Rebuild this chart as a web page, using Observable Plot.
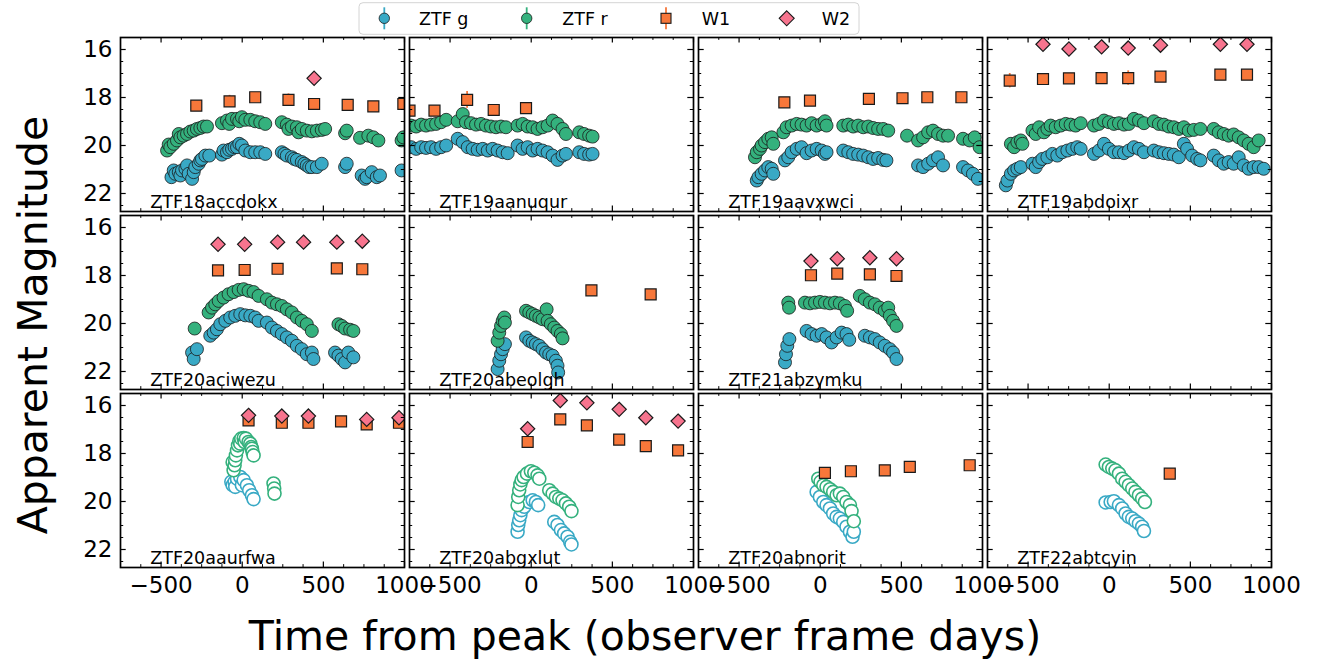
<!DOCTYPE html>
<html><head><meta charset="utf-8">
<script src="https://cdn.jsdelivr.net/npm/d3@7"></script>
<script src="https://cdn.jsdelivr.net/npm/@observablehq/plot@0.6"></script>
<style>
body{margin:0;background:#fff;}
#wrap{position:relative;width:1324px;height:664px;font-family:"DejaVu Sans",sans-serif;}
#overlay{position:absolute;left:0;top:0;pointer-events:none;}
</style></head><body><div id="wrap"></div>
<script>
// ---------------- DATA ----------------
const panelNames = ["ZTF18accdokx","ZTF19aanuqur","ZTF19aavxwci","ZTF19abdoixr",
                    "ZTF20aciwezu","ZTF20abeolgh","ZTF21abzymku","",
                    "ZTF20aaurfwa","ZTF20abgxlut","ZTF20abnorit","ZTF22abtcyin"];
const bandNames = ["ZTF g","ZTF r","W1","W2"];
const xTickLabels = [-500, 0, 500, 1000];
const yTickLabels = [16, 18, 20, 22];

// [time from peak (days), apparent magnitude, (error)]
const accdokx_g = [[-436,21.32],[-422,21.04],[-412,21.18],[-391,21.11],[-381,21.25],[-371,21.04],[-350,20.97],[-340,20.83],[-330,21.18],[-309,21.39],[-299,21.11],[-289,20.90],[-268,20.76],[-258,20.62],[-248,20.56],[-227,20.42],[-203,20.42],
  [-125,20.38],[-115,20.21],[-94,20.28],[-80,20.18],[-63,20.14],[-47,20.07],[-32,20.07],[-18,19.93],[-2,20.00],[19,20.21],[50,20.28],[80,20.28],[111,20.28],[142,20.35],
  [244,20.28],[260,20.35],[275,20.42],[306,20.49],[320,20.56],[337,20.60],[367,20.69],[383,20.76],[398,20.83],[413,20.90],[429,20.90],[460,20.90],[490,20.76],
  [634,20.90],[644,20.76],[736,21.25],[757,21.39],[767,21.32],[798,21.11],[829,21.32],[849,21.25],[982,21.04]];
const accdokx_r = [[-463,20.21],[-453,19.96],[-443,20.07],[-422,19.93],[-402,19.79],[-391,19.52],[-381,19.66],[-361,19.59],[-340,19.52],[-320,19.42],[-299,19.38],[-279,19.31],[-258,19.27],[-238,19.21],[-217,19.21],
  [-125,19.07],[-94,18.96],[-80,19.10],[-63,18.89],[-32,18.89],[-18,18.99],[-2,18.82],[19,18.93],[50,18.93],[80,18.99],[111,19.03],[142,19.10],
  [244,19.03],[275,19.13],[285,19.31],[306,19.21],[337,19.24],[347,19.45],[367,19.31],[398,19.38],[429,19.41],[460,19.38],[490,19.35],[511,19.31],
  [634,19.49],[644,19.38],[726,19.68],[777,19.59],[808,19.66],[839,19.79],[982,19.79],[993,19.66]];
const accdokx_w1 = [[-283,18.34,0.08],[-78,18.16,0.25],[80,17.99,0.15],[285,18.10,0.25],[443,18.27,0.08],[650,18.31,0.08],[808,18.37,0.2],[993,18.27,0.1]];
const accdokx_w2 = [[443,17.20]];

const anuqur_g = [[-740,20.07],[-709,20.14],[-678,20.07],[-648,20.10],[-617,20.07],[-586,20.14],[-555,20.07],[-524,20.00],
  [-453,19.72],[-422,19.86],[-391,20.07],[-361,20.14],[-330,20.18],[-299,20.14],[-268,20.21],[-238,20.14],[-207,20.21],[-176,20.28],[-145,20.32],
  [-84,20.00],[-53,20.14],[-22,20.07],[9,20.21],[39,20.14],[70,20.21],[101,20.28],[132,20.42],[162,20.60],[193,20.42],[214,20.35],
  [296,20.28],[326,20.35],[357,20.38],[378,20.35]];
const anuqur_r = [[-740,19.17],[-709,19.21],[-678,19.13],[-648,19.17],[-617,19.13],[-586,19.10],[-555,19.03],[-524,18.93],
  [-453,18.99],[-422,18.69],[-402,19.03],[-371,19.07],[-340,19.13],[-309,19.10],[-279,19.17],[-248,19.21],[-217,19.24],[-186,19.21],[-156,19.24],
  [-84,19.17],[-53,19.10],[-22,19.21],[9,19.24],[39,19.31],[70,19.24],[101,19.17],[132,18.96],[162,19.10],[193,19.31],[214,19.52],
  [296,19.45],[326,19.52],[357,19.59],[378,19.63]];
const anuqur_w1 = [[-750,18.55,0.1],[-596,18.55,0.1],[-395,18.10,0.35],[-231,18.52,0.1],[-32,18.44,0.1]];
const anuqur_w2 = [];

const aavxwci_g = [[-391,21.46],[-381,21.32],[-361,21.18],[-340,21.04],[-320,20.90],[-299,20.97],[-289,21.18],
  [-217,20.62],[-197,20.49],[-176,20.28],[-145,20.14],[-115,20.07],[-84,20.32],[-53,20.21],[-22,20.14],[9,20.21],[29,20.35],[39,20.28],
  [142,20.21],[173,20.28],[203,20.35],[234,20.38],[265,20.42],[296,20.49],[326,20.56],[357,20.52],[388,20.60],[408,20.62],
  [603,20.83],[634,20.90],[665,20.76],[695,20.62],[726,20.49],[757,20.83],[880,20.90],[911,21.04],[941,21.18],[972,21.39]];
const aavxwci_r = [[-402,20.49],[-391,20.28],[-371,20.14],[-361,20.00],[-340,19.86],[-320,19.72],[-299,19.66],[-289,19.93],
  [-227,19.45],[-207,19.24],[-176,19.17],[-145,19.10],[-115,19.13],[-84,19.17],[-53,19.07],[-22,19.17],[9,19.10],[29,18.99],[39,19.17],
  [142,19.17],[173,19.13],[203,19.21],[234,19.17],[265,19.24],[296,19.21],[326,19.27],[357,19.31],[388,19.31],[419,19.38],
  [535,19.59],[603,19.79],[634,19.66],[665,19.45],[695,19.38],[726,19.52],[757,19.59],[788,19.59],[880,19.72],[921,19.79],[952,19.66],[982,20.07]];
const aavxwci_w1 = [[-221,18.20,0.2],[-63,18.13,0.15],[300,18.06,0.2],[507,18.03,0.2],[660,17.99,0.15],[870,17.99,0.2]];
const aavxwci_w2 = [];

const abdoixr_g = [[-637,21.66],[-627,21.46],[-606,21.18],[-586,21.04],[-566,20.97],[-545,20.90],
  [-473,20.76],[-453,20.90],[-432,20.69],[-412,20.56],[-381,20.49],[-350,20.35],[-320,20.42],[-289,20.28],[-258,20.21],[-227,20.14],[-197,20.07],[-176,20.14],
  [-94,20.35],[-63,20.21],[-32,19.93],[-2,20.14],[29,20.28],[60,20.28],[91,20.32],[121,20.21],[152,20.07],[183,20.14],[214,20.28],
  [275,20.21],[306,20.28],[337,20.32],[367,20.35],[398,20.38],[429,20.49],[460,19.93],[480,20.14],[511,20.42],[542,20.56],[562,20.62],
  [644,20.42],[675,20.62],[706,20.76],[736,20.69],[767,20.76],[798,20.49],[829,20.83],[859,20.97],[890,20.90],[921,20.90],[952,20.97]];
const abdoixr_r = [[-606,19.93],[-586,20.07],[-566,19.86],[-545,19.79],[-535,19.93],
  [-473,19.38],[-453,19.52],[-432,19.24],[-402,19.45],[-381,19.31],[-361,19.17],[-330,19.24],[-299,19.17],[-268,19.10],[-238,19.13],[-207,19.17],[-176,19.07],
  [-94,19.17],[-63,19.10],[-32,18.96],[-2,19.03],[29,19.10],[60,19.07],[91,19.13],[121,19.10],[152,18.89],[183,18.96],[214,19.07],
  [275,18.99],[306,19.10],[337,19.13],[367,19.21],[398,19.24],[429,19.31],[460,19.24],[490,19.38],[521,19.35],[562,19.31],
  [644,19.31],[675,19.45],[706,19.52],[736,19.59],[767,19.54],[798,19.66],[829,19.79],[859,19.93],[890,20.07],[921,19.79]];
const abdoixr_w1 = [[-613,17.30,0.3],[-408,17.23,0.1],[-248,17.20,0.1],[-47,17.19,0.1],[117,17.19,0.3],[316,17.13,0.1],[685,17.05,0.1],[849,17.05,0.1]];
const abdoixr_w2 = [[-408,15.78],[-248,15.98],[-47,15.89],[117,15.94],[316,15.82],[685,15.78],[849,15.78]];

const aciwezu_g = [[-309,21.21],[-299,21.48],[-279,21.07],
  [-197,20.51],[-176,20.38],[-156,20.24],[-135,20.03],[-104,19.89],[-74,19.75],[-43,19.68],[-12,19.61],[19,19.66],[50,19.68],[80,19.75],[101,19.89],
  [152,19.96],[183,20.17],[214,20.31],[244,20.44],[275,20.58],[306,20.72],[337,20.93],[367,21.07],[398,21.28],[429,21.21],[439,21.48],
  [572,21.21],[593,21.34],[613,21.48],[634,21.62],[654,21.21],[685,21.41]];
const aciwezu_r = [[-293,20.21],
  [-207,19.54],[-186,19.34],[-166,19.20],[-145,19.06],[-115,18.92],[-84,18.78],[-53,18.69],[-22,18.60],[9,18.57],[39,18.64],[70,18.69],[101,18.85],
  [152,18.99],[183,19.13],[214,19.20],[244,19.27],[275,19.41],[306,19.54],[337,19.75],[367,19.89],[398,20.03],[429,20.31],
  [593,20.03],[613,20.10],[634,20.21],[665,20.26],[685,20.31]];
const aciwezu_w1 = [[-149,17.79,0.1],[15,17.77,0.1],[218,17.72,0.1],[583,17.70,0.1],[740,17.74,0.1]];
const aciwezu_w2 = [[-149,16.70],[15,16.70],[218,16.61],[378,16.61],[583,16.61],[740,16.57]];

const abeolgh_g = [[-207,21.90],[-197,21.55],[-186,21.28],[-176,21.07],[-162,20.86],
  [-32,20.58],[-12,20.72],[9,20.79],[29,20.86],[50,20.93],[70,21.07],[91,21.21],[111,21.28],[132,21.34],[152,21.55],[162,21.76],[166,22.04]];
const abeolgh_r = [[-207,20.72],[-197,20.38],[-186,20.10],[-176,19.89],[-166,19.75],[-162,19.96],
  [-32,19.47],[-12,19.54],[9,19.61],[29,19.68],[50,19.75],[70,19.82],[95,19.41],[101,19.89],[121,20.03],[142,20.17],[162,20.31],[183,20.44],[193,20.62]];
const abeolgh_w1 = [[371,18.62,0.08],[736,18.79,0.08]];
const abeolgh_w2 = [];

const abzymku_g = [[-217,21.62],[-211,21.28],[-203,20.93],[-190,20.65],
  [-84,20.31],[-53,20.44],[-22,20.51],[9,20.44],[39,20.58],[70,20.79],[101,20.58],[132,20.38],[162,20.44],[179,20.68],
  [275,20.51],[306,20.58],[337,20.65],[367,20.79],[398,20.93],[429,21.07],[449,21.21],[470,21.48]];
const abzymku_r = [[-197,19.13],[-192,19.34],
  [-94,19.13],[-63,19.16],[-32,19.13],[-2,19.10],[29,19.13],[60,19.16],[91,19.13],[121,19.16],[152,19.27],[166,19.47],
  [244,18.85],[275,18.99],[306,19.13],[337,19.20],[367,19.34],[398,19.47],[419,19.34],[429,19.68],[449,19.89],[470,20.10]];
const abzymku_w1 = [[-57,17.99,0.1],[105,17.92,0.1],[306,17.95,0.1],[470,18.02,0.1]];
const abzymku_w2 = [[-57,17.40],[105,17.30],[306,17.26],[470,17.30]];

const aaurfwa_g = [[-67,19.18],[-59,19.32],[-47,19.18],[-43,19.39],[-32,19.05],[-12,18.98],[-2,19.32],[9,19.11],[29,19.32],[43,19.53],[60,19.74],[70,19.90]];
const aaurfwa_r = [[-53,18.70],[-59,18.36],[-47,18.49],[-43,18.28],[-39,18.08],[-32,17.87],[-26,17.66],[-18,17.49],[-12,17.59],[-6,17.38],[9,17.36],[15,17.52],[23,17.38],[39,17.52],[50,17.59],[56,17.73],[60,17.80],[64,17.94],[70,18.08],
  [193,19.25],[197,19.46],[199,19.67]];
const aaurfwa_w1 = [[39,16.62,0.08],[244,16.72,0.08],[408,16.72,0.08],[609,16.66,0.08],[767,16.79,0.08],[966,16.72,0.08]];
const aaurfwa_w2 = [[39,16.41],[244,16.44],[408,16.44],[767,16.58],[966,16.51]];

const abgxlut_g = [[-84,21.26],[-80,20.98],[-74,20.78],[-67,20.57],[-59,20.36],[-43,20.22],[-12,20.02],[9,19.95],[29,20.02],[43,20.15],
  [142,20.85],[162,20.98],[183,21.19],[203,21.33],[224,21.47],[240,21.68],[248,21.79]];
const abgxlut_r = [[-84,20.15],[-80,19.81],[-74,19.53],[-67,19.29],[-59,19.11],[-47,18.98],[-26,18.84],[-2,18.74],[19,18.80],[39,18.91],[50,19.05],
  [111,19.53],[132,19.67],[152,19.81],[173,19.88],[193,19.95],[214,20.08],[234,20.22],[248,20.40]];
const abgxlut_w1 = [[-22,17.52,0.08],[179,16.58,0.08],[343,16.83,0.08],[542,17.42,0.08],[706,17.69,0.08],[905,17.87,0.08]];
const abgxlut_w2 = [[-22,16.97],[179,15.79],[343,15.89],[542,16.16],[706,16.51],[905,16.65]];

const abnorit_g = [[-22,19.60],[-2,19.81],[19,20.02],[39,20.15],[60,20.29],[80,20.50],[101,20.64],[121,20.71],[142,20.85],[162,21.05],[183,21.26],[199,21.47],[207,21.26]];
const abnorit_r = [[-12,19.05],[2,19.18],[19,19.32],[39,19.39],[60,19.49],[80,19.60],[101,19.74],[121,19.67],[142,19.81],[162,20.02],[183,20.15],[193,20.40],[207,20.82]];
const abnorit_w1 = [[29,18.81,0.08],[189,18.74,0.08],[398,18.70,0.1],[552,18.56,0.08],[921,18.49,0.08]];
const abnorit_w2 = [];

const abtcyin_g = [[-22,20.04],[9,20.02],[29,19.99],[60,20.15],[80,20.29],[101,20.50],[121,20.64],[142,20.71],[162,20.82],[183,20.92],[203,21.05],[214,21.23]];
const abtcyin_r = [[-22,18.46],[-2,18.56],[19,18.63],[39,18.70],[60,18.84],[80,19.05],[101,19.18],[121,19.32],[142,19.46],[162,19.60],[183,19.74],[203,19.88],[220,20.02]];
const abtcyin_w1 = [[373,18.84,0.1]];
const abtcyin_w2 = [];

const gSeries  = [accdokx_g, anuqur_g, aavxwci_g, abdoixr_g, aciwezu_g, abeolgh_g, abzymku_g, [], aaurfwa_g, abgxlut_g, abnorit_g, abtcyin_g];
const rSeries  = [accdokx_r, anuqur_r, aavxwci_r, abdoixr_r, aciwezu_r, abeolgh_r, abzymku_r, [], aaurfwa_r, abgxlut_r, abnorit_r, abtcyin_r];
const w1Series = [accdokx_w1, anuqur_w1, aavxwci_w1, abdoixr_w1, aciwezu_w1, abeolgh_w1, abzymku_w1, [], aaurfwa_w1, abgxlut_w1, abnorit_w1, abtcyin_w1];
const w2Series = [accdokx_w2, anuqur_w2, aavxwci_w2, abdoixr_w2, aciwezu_w2, abeolgh_w2, abzymku_w2, [], aaurfwa_w2, abgxlut_w2, abnorit_w2, abtcyin_w2];

// ---------------- LAYOUT / STYLE ----------------
const W = 1324, H = 664;
const mL = 118.3, mR = 52, mT = 36.7, mB = 96.3;
const padX = 0.019, padY = 0.02;
const PW = (W - mL - mR) / (4 - padX) * (1 - padX);
const PH = (H - mT - mB) / (3 - padY) * (1 - padY);
const colors = {"ZTF g": "#39A9C5", "ZTF r": "#34B17D", "W1": "#F7773A", "W2": "#F7748E"};
const FONT = "DejaVu Sans";

function rowsFor(list, band) {
  const out = [];
  list.forEach((s, i) => s.forEach(([t, mag, err]) =>
    out.push({panel: i, col: i % 4, row: Math.floor(i / 4), band, t, mag, err})));
  return out;
}
const gRows = rowsFor(gSeries, "ZTF g");
const rRows = rowsFor(rSeries, "ZTF r");
const w1Rows = rowsFor(w1Series, "W1");
const w2Rows = rowsFor(w2Series, "W2");
const labels = panelNames.map((name, i) => ({name, col: i % 4, row: Math.floor(i / 4)}));

const common = {fx: "col", fy: "row", x: "t", y: "mag", clip: true};
const xMinor = [-625, -375, -250, -125, 125, 250, 375, 625, 750, 875];
const yMinor = [16.5, 17, 17.5, 18.5, 19, 19.5, 20.5, 21, 21.5, 22.5];
const majLen = 6, minLen = 3.5;

function ztfMarks(rows, band) {
  return [
    Plot.dot(rows.filter(d => d.row < 2), {...common, r: 6.5, fill: colors[band], stroke: "#1a1a1a", strokeWidth: 0.8}),
    Plot.dot(rows.filter(d => d.row === 2), {...common, r: 6.5, fill: "white", stroke: colors[band], strokeWidth: 1.6})
  ];
}

const chart = Plot.plot({
  width: W, height: H,
  marginLeft: mL, marginRight: mR, marginTop: mT, marginBottom: mB,
  style: {fontFamily: FONT, background: "white", overflow: "visible"},
  x: {domain: [-750, 1000]},
  y: {domain: [15.5, 22.75], reverse: true},
  fx: {domain: [0, 1, 2, 3], paddingInner: padX, paddingOuter: 0, axis: null, label: null},
  fy: {domain: [0, 1, 2], paddingInner: padY, paddingOuter: 0, axis: null, label: null},
  marks: [
    // error bars
    Plot.ruleX(w1Rows.filter(d => d.err), {...common, y: undefined, y1: d => d.mag - d.err, y2: d => d.mag + d.err, stroke: colors["W1"], strokeWidth: 1.8}),
    ...ztfMarks(gRows, "ZTF g"),
    ...ztfMarks(rRows, "ZTF r"),
    Plot.dot(w1Rows, {...common, symbol: "square", r: 6.2, fill: colors["W1"], stroke: "#1a1a1a", strokeWidth: 1.2}),
    Plot.dot(w2Rows, {...common, symbol: "diamond2", r: 6.4, fill: colors["W2"], stroke: "#1a1a1a", strokeWidth: 1.2}),
    Plot.text(labels, {fx: "col", fy: "row", text: "name", frameAnchor: "bottom-left", dx: 29.7, dy: -4, fontSize: 17.5, fill: "black"}),
    // inward ticks on all four sides
    Plot.ruleX(xTickLabels, {insetBottom: PH - majLen, stroke: "black", strokeWidth: 1.2}),
    Plot.ruleX(xTickLabels, {insetTop: PH - majLen, stroke: "black", strokeWidth: 1.2}),
    Plot.ruleX(xMinor, {insetBottom: PH - minLen, stroke: "black", strokeWidth: 1}),
    Plot.ruleX(xMinor, {insetTop: PH - minLen, stroke: "black", strokeWidth: 1}),
    Plot.ruleY(yTickLabels, {insetRight: PW - majLen, stroke: "black", strokeWidth: 1.2}),
    Plot.ruleY(yTickLabels, {insetLeft: PW - majLen, stroke: "black", strokeWidth: 1.2}),
    Plot.ruleY(yMinor, {insetRight: PW - minLen, stroke: "black", strokeWidth: 1}),
    Plot.ruleY(yMinor, {insetLeft: PW - minLen, stroke: "black", strokeWidth: 1}),
    Plot.frame({stroke: "black", strokeWidth: 1.7}),
    Plot.axisX({ticks: xTickLabels, anchor: "bottom", facetAnchor: "bottom", tickSize: 0, tickPadding: 9,
                tickFormat: d3.format("d"), fontSize: 23, label: null}),
    Plot.axisY({ticks: yTickLabels, anchor: "left", facetAnchor: "left", tickSize: 0, tickPadding: 8,
                tickFormat: d3.format("d"), fontSize: 23, label: null})
  ]
});

const wrap = document.getElementById("wrap");
wrap.appendChild(chart);

// ---------------- overlay: legend and axis titles ----------------
const ov = d3.select(wrap).append("svg").attr("id", "overlay")
  .attr("width", W).attr("height", H).style("font-family", FONT);

ov.append("text").attr("x", 645).attr("y", 650).attr("text-anchor", "middle")
  .attr("font-size", 41).text("Time from peak (observer frame days)");
ov.append("text").attr("transform", "translate(47,325) rotate(-90)").attr("text-anchor", "middle")
  .attr("font-size", 41).text("Apparent Magnitude");

const lg = ov.append("g");
lg.append("rect").attr("x", 359).attr("y", 2.7).attr("width", 500).attr("height", 31.6).attr("rx", 4)
  .attr("fill", "white").attr("stroke", "#d4d4d4").attr("stroke-width", 1);
const legendItems = [
  {band: "ZTF g", mx: 384.3, tx: 419},
  {band: "ZTF r", mx: 526.7, tx: 562.3},
  {band: "W1", mx: 666, tx: 701.7},
  {band: "W2", mx: 786.7, tx: 821.7}
];
const cy = 18.3;
legendItems.forEach(({band, mx, tx}) => {
  if (band !== "W2") lg.append("line").attr("x1", mx).attr("x2", mx).attr("y1", cy - 11).attr("y2", cy + 11)
    .attr("stroke", colors[band]).attr("stroke-width", 1.8);
  if (band.startsWith("ZTF")) {
    lg.append("circle").attr("cx", mx).attr("cy", cy).attr("r", 5.2).attr("fill", colors[band]).attr("stroke", "#1a1a1a").attr("stroke-width", 0.8);
  } else if (band === "W1") {
    lg.append("rect").attr("x", mx - 5).attr("y", cy - 5).attr("width", 10).attr("height", 10).attr("fill", colors[band]).attr("stroke", "#1a1a1a").attr("stroke-width", 1.1);
  } else {
    lg.append("path").attr("d", `M${mx},${cy - 7.5}L${mx + 7.5},${cy}L${mx},${cy + 7.5}L${mx - 7.5},${cy}Z`).attr("fill", colors[band]).attr("stroke", "#1a1a1a").attr("stroke-width", 1.1);
  }
  lg.append("text").attr("x", tx).attr("y", cy + 6.4).attr("font-size", 17.5).text(band);
});
</script></body></html>
